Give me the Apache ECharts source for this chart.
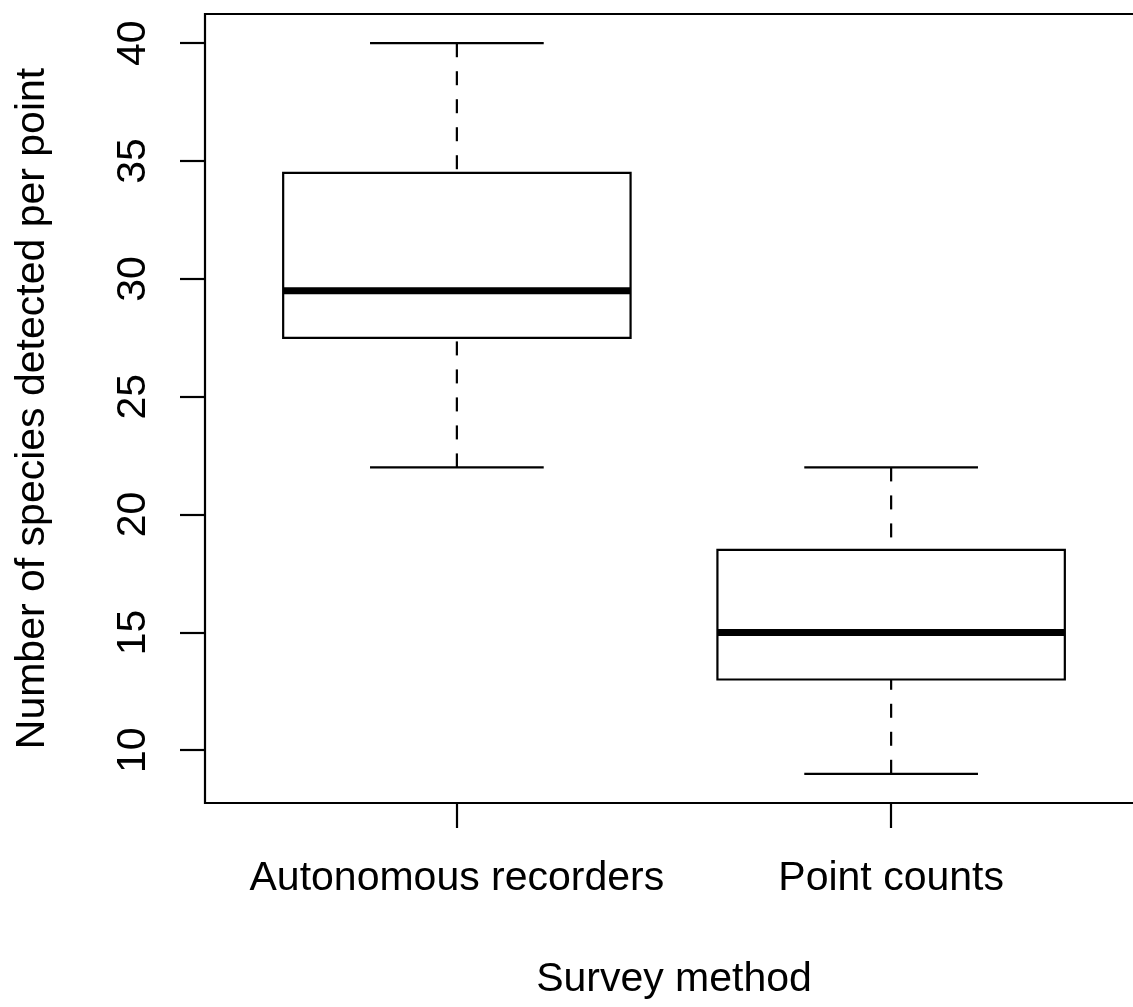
<!DOCTYPE html>
<html>
<head>
<meta charset="utf-8">
<script src="https://cdn.jsdelivr.net/npm/echarts@6/dist/echarts.min.js"></script>
<style>
html,body{margin:0;padding:0;background:#fff;}
#chart{width:1133px;height:1007px;}
</style>
</head>
<body>
<div id="chart"></div>
<script>
// ---- data ----
var categories = ['Autonomous recorders', 'Point counts'];
var lowerWhisker = [22, 9];
var lowerQuartile = [27.5, 13];
var medianValues = [29.5, 15];
var upperQuartile = [34.5, 18.5];
var upperWhisker = [40, 22];
var yTickValues = [10, 15, 20, 25, 30, 35, 40];
var xTickValues = [1, 2];
var xRange = [0.42, 2.58];
var yRange = [7.76, 41.24];
var xTitle = 'Survey method';
var yTitle = 'Number of species detected per point';

var boxData = categories.map(function (c, i) {
  return [i + 1, lowerWhisker[i], lowerQuartile[i], medianValues[i], upperQuartile[i], upperWhisker[i]];
});

var FONT = 'Liberation Sans, Arial, Helvetica, sans-serif';
var FS = 41;
var LW = 2.2;

var chart = echarts.init(document.getElementById('chart'), null, {renderer: 'canvas'});
chart.setOption({
  animation: false,
  backgroundColor: '#fff',
  grid: {
    left: 205, top: 14, width: 938, height: 789,
    show: true, borderColor: '#000', borderWidth: LW, backgroundColor: 'transparent',
    containLabel: false, outerBoundsMode: 'none'
  },
  xAxis: {
    type: 'value', min: xRange[0], max: xRange[1],
    name: xTitle, nameLocation: 'middle', nameGap: 156,
    nameTextStyle: {color: '#000', fontSize: FS, fontFamily: FONT},
    axisLine: {show: false},
    splitLine: {show: false},
    axisTick: {show: true, length: 25, customValues: xTickValues, lineStyle: {color: '#000', width: LW}},
    axisLabel: {
      show: true, margin: 55, customValues: xTickValues,
      color: '#000', fontSize: FS, fontFamily: FONT,
      formatter: function (v) { return categories[Math.round(v) - 1]; }
    }
  },
  yAxis: {
    type: 'value', min: yRange[0], max: yRange[1],
    name: yTitle, nameLocation: 'middle', nameGap: 152,
    nameTextStyle: {color: '#000', fontSize: FS, fontFamily: FONT},
    axisLine: {show: false},
    splitLine: {show: false},
    axisTick: {show: true, length: 25, customValues: yTickValues, lineStyle: {color: '#000', width: LW}},
    axisLabel: {
      show: true, margin: 51, rotate: 90, customValues: yTickValues,
      color: '#000', fontSize: FS, fontFamily: FONT
    }
  },
  series: [{
    type: 'custom',
    data: boxData,
    encode: {x: 0, y: [1, 2, 3, 4, 5]},
    renderItem: function (params, api) {
      var x = api.value(0);
      var lo = api.value(1), q1 = api.value(2), med = api.value(3), q3 = api.value(4), hi = api.value(5);
      var halfBox = 0.4, halfCap = 0.2;
      var tl = api.coord([x - halfBox, q3]);
      var br = api.coord([x + halfBox, q1]);
      var mL = api.coord([x - halfBox, med]);
      var mR = api.coord([x + halfBox, med]);
      var cHiL = api.coord([x - halfCap, hi]);
      var cHiR = api.coord([x + halfCap, hi]);
      var cLoL = api.coord([x - halfCap, lo]);
      var cLoR = api.coord([x + halfCap, lo]);
      var pHi = api.coord([x, hi]);
      var pQ3 = api.coord([x, q3]);
      var pLo = api.coord([x, lo]);
      var pQ1 = api.coord([x, q1]);
      var lineStyle = {stroke: '#000', lineWidth: LW, fill: null};
      var dashStyle = {stroke: '#000', lineWidth: LW, lineDash: [14, 14], fill: null};
      return {
        type: 'group',
        children: [
          {type: 'line', shape: {x1: pHi[0], y1: pHi[1], x2: pQ3[0], y2: pQ3[1]}, style: dashStyle},
          {type: 'line', shape: {x1: pLo[0], y1: pLo[1], x2: pQ1[0], y2: pQ1[1]}, style: dashStyle},
          {type: 'line', shape: {x1: cHiL[0], y1: cHiL[1], x2: cHiR[0], y2: cHiR[1]}, style: lineStyle},
          {type: 'line', shape: {x1: cLoL[0], y1: cLoL[1], x2: cLoR[0], y2: cLoR[1]}, style: lineStyle},
          {type: 'rect', shape: {x: tl[0], y: tl[1], width: br[0] - tl[0], height: br[1] - tl[1]},
            style: {stroke: '#000', lineWidth: LW, fill: '#fff'}},
          {type: 'line', shape: {x1: mL[0], y1: mL[1], x2: mR[0], y2: mR[1]},
            style: {stroke: '#000', lineWidth: 7, lineCap: 'butt', fill: null}}
        ]
      };
    }
  }]
});
</script>
</body>
</html>
